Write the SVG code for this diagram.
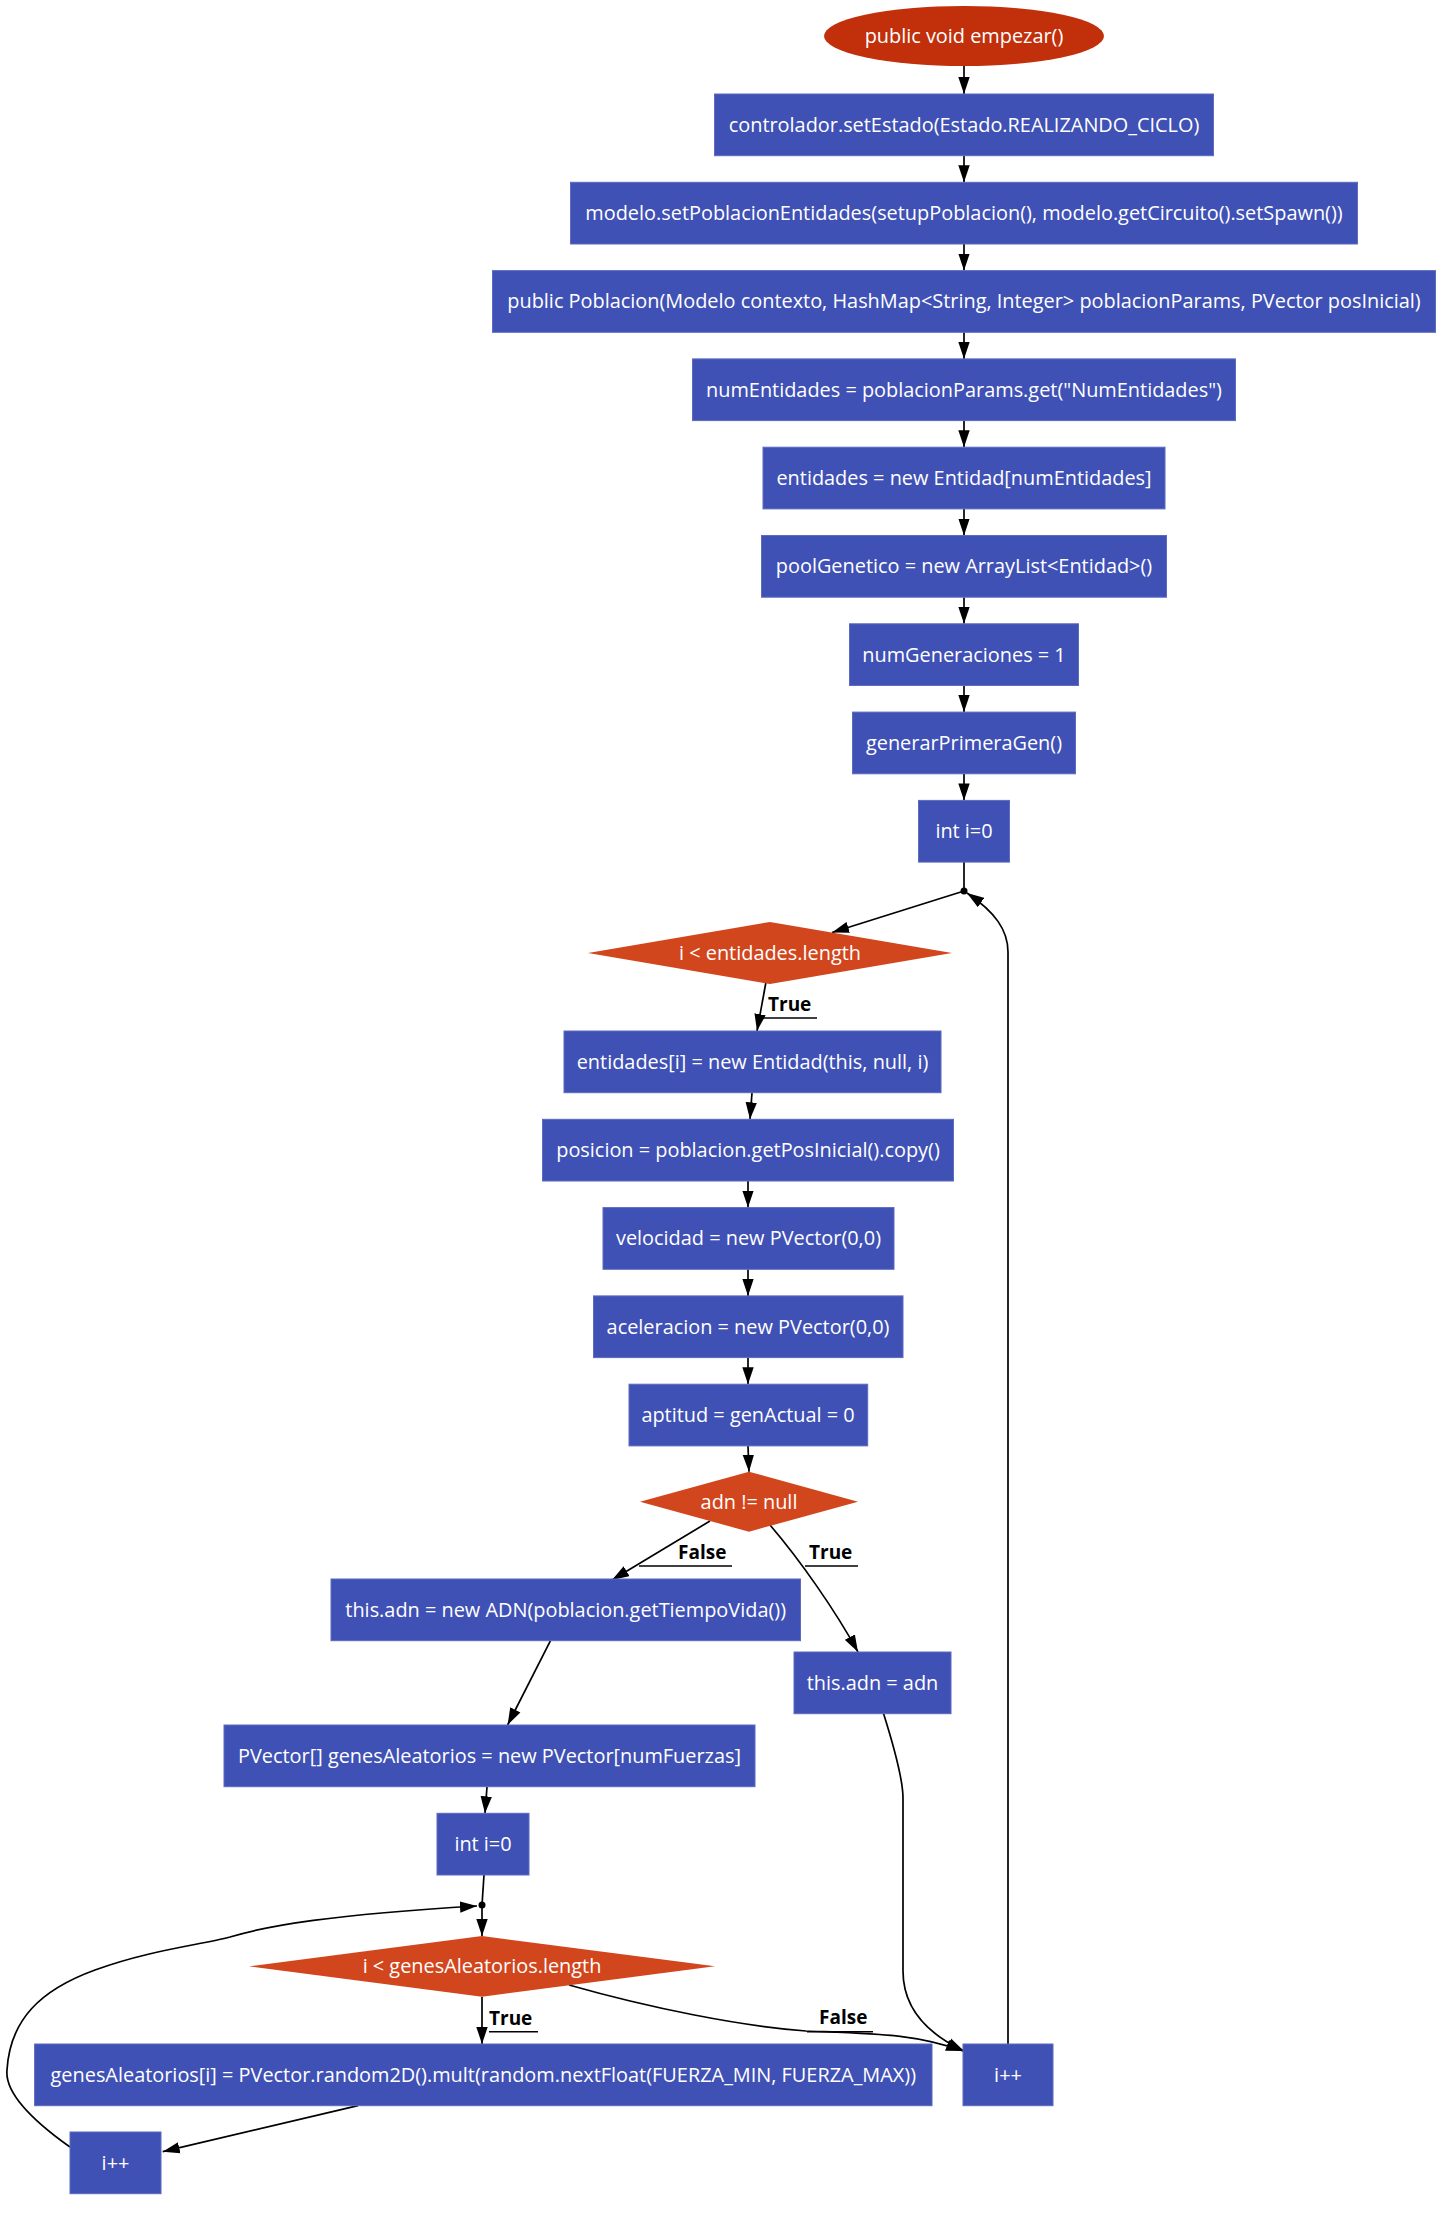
<svg xmlns="http://www.w3.org/2000/svg" width="1453" height="2214" viewBox="0 0 1453 2214">
<style>
.box{fill:#3f51b5;stroke:#5c6bc0;stroke-width:1}
.dia{fill:#d2461d}
.t{font-family:"Open Sans","Liberation Sans",sans-serif;font-size:19.9px;fill:#ffffff;text-anchor:middle}
.e{fill:none;stroke:#000;stroke-width:1.7}
.ea{fill:none;stroke:#000;stroke-width:1.7;marker-end:url(#ah)}
.lb{font-family:"Open Sans","Liberation Sans",sans-serif;font-size:19px;font-weight:bold;fill:#000}
.ul{stroke:#000;stroke-width:1.5}
</style>
<defs>
<marker id="ah" markerUnits="userSpaceOnUse" markerWidth="18" markerHeight="12" refX="17" refY="6" orient="auto">
<path d="M0,0.3 L17,6 L0,11.7 z" fill="#000"/>
</marker>
</defs>
<rect width="1453" height="2214" fill="#fff"/>
<g id="connectors">
<path class="ea" d="M964,66 L964,94"/>
<path class="ea" d="M964,155.7 L964,182.3"/>
<path class="ea" d="M964,244 L964,270.6"/>
<path class="ea" d="M964,332.3 L964,358.9"/>
<path class="ea" d="M964,420.6 L964,447.2"/>
<path class="ea" d="M964,508.9 L964,535.5"/>
<path class="ea" d="M964,597.2 L964,623.8"/>
<path class="ea" d="M964,685.5 L964,712.1"/>
<path class="ea" d="M964,773.8 L964,800.4"/>
<path class="e" d="M964,862.1 L964,891"/>
<path class="ea" d="M964,891 L832,932.5"/>
<path class="ea" d="M766,982 L757,1031"/>
<path class="ea" d="M752,1092.7 L750,1119.3"/>
<path class="ea" d="M748,1181 L748,1207.6"/>
<path class="ea" d="M748,1269.3 L748,1295.9"/>
<path class="ea" d="M748,1357.6 L748,1384.2"/>
<path class="ea" d="M748,1446 L749,1471.7"/>
<path class="ea" d="M710,1521 L612,1580"/>
<path class="ea" d="M770,1525 C800,1560 835,1610 858,1652"/>
<path class="ea" d="M550.5,1640.7 L507.6,1725"/>
<path class="ea" d="M487,1786.7 L485,1813.3"/>
<path class="e" d="M484,1875 L482,1905"/>
<path class="ea" d="M482,1905 L482,1936"/>
<path class="ea" d="M482,1997 L482,2044"/>
<path class="ea" d="M569,1985 C650,2008 740,2026 806,2031 C880,2034 915,2034 963,2051"/>
<path class="ea" d="M883.6,1713.7 C895,1750 903,1780 903,1798 L903,1971 C903,2010 930,2035 964,2051"/>
<path class="ea" d="M1008,2044 L1008,952 C1008,930 995,912 967,893"/>
<path class="ea" d="M358,2105.7 L162.7,2151.7"/>
<path class="ea" d="M70,2147 C25,2115 5,2090 7,2070 C10,2020 40,1990 95,1970 C150,1950 200,1945 230,1937 C270,1925 330,1915 477,1906"/>
<circle cx="964" cy="891" r="3.5" fill="#000"/>
<circle cx="482" cy="1905" r="3.5" fill="#000"/>
<text class="lb" x="768" y="1011">True</text>
<line class="ul" x1="763" y1="1018" x2="817" y2="1018"/>
<text class="lb" x="678" y="1559">False</text>
<line class="ul" x1="639" y1="1566" x2="732" y2="1566"/>
<text class="lb" x="809" y="1559">True</text>
<line class="ul" x1="805" y1="1566" x2="858" y2="1566"/>
<text class="lb" x="489" y="2025">True</text>
<line class="ul" x1="489" y1="2031.7" x2="538" y2="2031.7"/>
<text class="lb" x="819" y="2024">False</text>
<line class="ul" x1="807" y1="2031.7" x2="873" y2="2031.7"/>
</g>
<g id="start">
<ellipse cx="964" cy="36" rx="140" ry="30" fill="#c1300a"/>
<text class="t" x="964" y="43">public void empezar()</text>
</g>
<g id="n1"><rect class="box" x="714.5" y="94" width="499" height="61.7"/><text class="t" x="964" y="131.8">controlador.setEstado(Estado.REALIZANDO_CICLO)</text></g>
<g id="n2"><rect class="box" x="570.5" y="182.3" width="787" height="61.7"/><text class="t" x="964" y="220">modelo.setPoblacionEntidades(setupPoblacion(), modelo.getCircuito().setSpawn())</text></g>
<g id="n3"><rect class="box" x="492.5" y="270.6" width="943" height="61.7"/><text class="t" x="964" y="308.3">public Poblacion(Modelo contexto, HashMap&lt;String, Integer&gt; poblacionParams, PVector posInicial)</text></g>
<g id="n4"><rect class="box" x="692.5" y="358.9" width="543" height="61.7"/><text class="t" x="964" y="396.6">numEntidades = poblacionParams.get("NumEntidades")</text></g>
<g id="n5"><rect class="box" x="763" y="447.2" width="402" height="61.7"/><text class="t" x="964" y="484.9">entidades = new Entidad[numEntidades]</text></g>
<g id="n6"><rect class="box" x="761.5" y="535.5" width="405" height="61.7"/><text class="t" x="964" y="573.2">poolGenetico = new ArrayList&lt;Entidad&gt;()</text></g>
<g id="n7"><rect class="box" x="849.5" y="623.8" width="229" height="61.7"/><text class="t" x="964" y="661.5">numGeneraciones = 1</text></g>
<g id="n8"><rect class="box" x="852.5" y="712.1" width="223" height="61.7"/><text class="t" x="964" y="749.8">generarPrimeraGen()</text></g>
<g id="n9"><rect class="box" x="918.5" y="800.4" width="91" height="61.7"/><text class="t" x="964" y="838.1">int i=0</text></g>
<g id="d1"><polygon class="dia" points="588,953 770,922 952,953 770,984"/><text class="t" x="770" y="960">i &lt; entidades.length</text></g>
<g id="n10"><rect class="box" x="564" y="1031" width="377" height="61.7"/><text class="t" x="752.5" y="1068.7">entidades[i] = new Entidad(this, null, i)</text></g>
<g id="n11"><rect class="box" x="542.5" y="1119.3" width="411" height="61.7"/><text class="t" x="748" y="1157">posicion = poblacion.getPosInicial().copy()</text></g>
<g id="n12"><rect class="box" x="603" y="1207.6" width="291" height="61.7"/><text class="t" x="748.5" y="1245.3">velocidad = new PVector(0,0)</text></g>
<g id="n13"><rect class="box" x="593.5" y="1295.9" width="309.5" height="61.7"/><text class="t" x="748" y="1333.6">aceleracion = new PVector(0,0)</text></g>
<g id="n14"><rect class="box" x="629" y="1384.2" width="238.7" height="61.7"/><text class="t" x="748" y="1421.9">aptitud = genActual = 0</text></g>
<g id="d2"><polygon class="dia" points="640,1501.7 749,1471.7 858,1501.7 749,1531.7"/><text class="t" x="749" y="1508.7">adn != null</text></g>
<g id="n15"><rect class="box" x="331" y="1579" width="469.5" height="61.7"/><text class="t" x="565.7" y="1616.7">this.adn = new ADN(poblacion.getTiempoVida())</text></g>
<g id="n16"><rect class="box" x="794" y="1652" width="157" height="61.7"/><text class="t" x="872.5" y="1689.7">this.adn = adn</text></g>
<g id="n17"><rect class="box" x="224" y="1725" width="531" height="61.7"/><text class="t" x="489.5" y="1762.7">PVector[] genesAleatorios = new PVector[numFuerzas]</text></g>
<g id="n18"><rect class="box" x="437" y="1813.3" width="92" height="61.7"/><text class="t" x="483" y="1851">int i=0</text></g>
<g id="d3"><polygon class="dia" points="249,1966.3 482,1936 715,1966.3 482,1996.7"/><text class="t" x="482" y="1973.3">i &lt; genesAleatorios.length</text></g>
<g id="n19"><rect class="box" x="34.6" y="2044" width="897.4" height="61.7"/><text class="t" x="483.3" y="2081.7">genesAleatorios[i] = PVector.random2D().mult(random.nextFloat(FUERZA_MIN, FUERZA_MAX))</text></g>
<g id="n20"><rect class="box" x="963" y="2044" width="90" height="61.7"/><text class="t" x="1008" y="2081.7">i++</text></g>
<g id="n21"><rect class="box" x="70" y="2132" width="91" height="61.7"/><text class="t" x="115.5" y="2169.7">i++</text></g>
</svg>
